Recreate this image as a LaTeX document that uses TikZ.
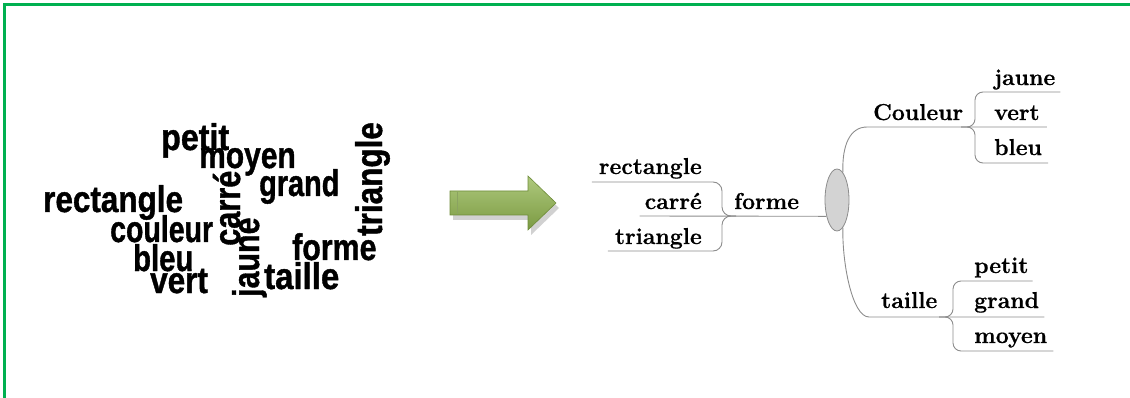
\documentclass[tikz,border=0pt]{standalone}
\usepackage{fontspec}
\newfontfamily\cloudfont{Liberation Sans}[BoldFeatures={FakeBold=1.2}]
\newfontfamily\mmfont{Latin Modern Roman}[BoldFeatures={FakeBold=0.6}]
\usetikzlibrary{calc,shapes.geometric,shadows}
\definecolor{framegreen}{HTML}{00B050}
\definecolor{linegray}{HTML}{8C8C8C}
\definecolor{ellgray}{HTML}{D3D3D3}
\definecolor{arrowlight}{HTML}{AFC97D}
\definecolor{arrowdark}{HTML}{7A9A42}
\definecolor{arrowedge}{HTML}{6E8C3A}
\newcommand\cw[2][0.85]{\scalebox{#1}[1]{#2}}
\begin{document}
\begin{tikzpicture}[x=1pt,y=-1pt,
  cloud/.style={inner sep=0pt, anchor=base west, font=\cloudfont\bfseries\fontsize{37}{37}\selectfont},
  mm/.style={inner sep=0pt, font=\mmfont\bfseries\fontsize{23}{23}\selectfont},
  link/.style={draw=linegray, line width=0.9pt},
  frame/.style={draw=framegreen, line width=3pt},
]
\useasboundingbox (0,0) rectangle (1130,398);
% green frame
\draw[frame] (4,398) -- (4,5) -- (1130,5);

% word cloud
\node[cloud] (wpetit) at (161,150) {\cw[0.87]{petit}};
\node[cloud] (wmoyen) at (199,168) {\cw[0.81]{moyen}};
\node[cloud] (wgrand) at (259,196) {\cw[0.78]{grand}};
\node[cloud] (wrect) at (43,212) {\cw[0.85]{rectangle}};
\node[cloud] (wcouleur) at (110,242) {\cw[0.77]{couleur}};
\node[cloud] (wbleu) at (133,271) {\cw[0.79]{bleu}};
\node[cloud] (wvert) at (150,293) {\cw[0.85]{vert}};
\node[cloud] (wforme) at (292,260) {\cw[0.82]{forme}};
\node[cloud] (wtaille) at (264,289) {\cw[0.89]{taille}};
\node[cloud, rotate=90] (wcarre) at (240,246) {\cw[0.83]{carré}};
\node[cloud, rotate=90] (wjaune) at (259,297) {\cw[0.82]{jaune}};
\node[cloud, rotate=90] (wtri) at (382,236) {\cw[0.85]{triangle}};

% block arrow
\fill[black, opacity=0.18] (453,196) -- (531,196) -- (531,181) -- (559,208) -- (531,235) -- (531,220) -- (453,220) -- cycle;
\draw[arrowedge, line width=0.6pt, top color=arrowlight, bottom color=arrowdark]
  (450,191) -- (528,191) -- (528,176) -- (556,203) -- (528,230) -- (528,215) -- (450,215) -- cycle;
\draw[arrowedge!80, line width=1pt] (457,192) -- (457,214);

% mind map
\node[ellipse, draw=linegray, fill=ellgray, line width=0.8pt, minimum width=24pt, minimum height=62pt, inner sep=0pt] (center) at (837,200) {};

\node[mm, anchor=base east] (rect) at (702,174) {rectangle};
\node[mm, anchor=base east] (carre) at (702,209) {carré};
\node[mm, anchor=base east] (tri) at (702,244) {triangle};
\node[mm, anchor=base west] (forme) at (734,209) {forme};

\node[mm, anchor=base west] (couleur) at (873,120) {Couleur};
\node[mm, anchor=base west] (jaune) at (994,85) {jaune};
\node[mm, anchor=base west] (vert) at (994,120) {vert};
\node[mm, anchor=base west] (bleu) at (994,155) {bleu};

\node[mm, anchor=base west] (taille) at (881,308) {taille};
\node[mm, anchor=base west] (petit) at (974,273) {petit};
\node[mm, anchor=base west] (grand) at (974,308) {grand};
\node[mm, anchor=base west] (moyen) at (974,343) {moyen};

% junction points
\coordinate (jl) at (722,216);
\coordinate (jc) at (975,127);
\coordinate (jt) at (953,317);

% left branch (forme)
\draw[link] (center.237) -- ($(carre.base west)+(-5,7)$);
\draw[link, rounded corners=9] ($(rect.base west)+(-7,8)$) -- (jl |- {$(rect.base)+(0,8)$}) -- (jl) -- ($(jl)+(14,0)$);
\draw[link, rounded corners=9] ($(tri.base west)+(-7,7)$) -- (jl |- {$(tri.base)+(0,7)$}) -- (jl) -- ($(jl)+(14,0)$);

% Couleur branch
\draw[link] (center.78) .. controls (842,145) and (850,127) .. ($(couleur.base west)+(-6,7)$) -- ($(vert.base east)+(7,7)$);
\draw[link, rounded corners=8] ($(jaune.base east)+(5,7)$) -- (jc |- {$(jaune.base)+(0,7)$}) -- (jc) -- ($(jc)+(-14,0)$);
\draw[link, rounded corners=8] ($(bleu.base east)+(6,8)$) -- (jc |- {$(bleu.base)+(0,8)$}) -- (jc) -- ($(jc)+(-14,0)$);

% taille branch
\draw[link] (center.282) .. controls (842,262) and (852,317) .. ($(taille.base west)+(-12,9)$) -- ($(grand.base east)+(5,9)$);
\draw[link, rounded corners=8] ($(petit.base east)+(4,8)$) -- (jt |- {$(petit.base)+(0,8)$}) -- (jt) -- ($(jt)+(-14,0)$);
\draw[link, rounded corners=8] ($(moyen.base east)+(6,8)$) -- (jt |- {$(moyen.base)+(0,8)$}) -- (jt) -- ($(jt)+(-14,0)$);
\end{tikzpicture}
\end{document}
